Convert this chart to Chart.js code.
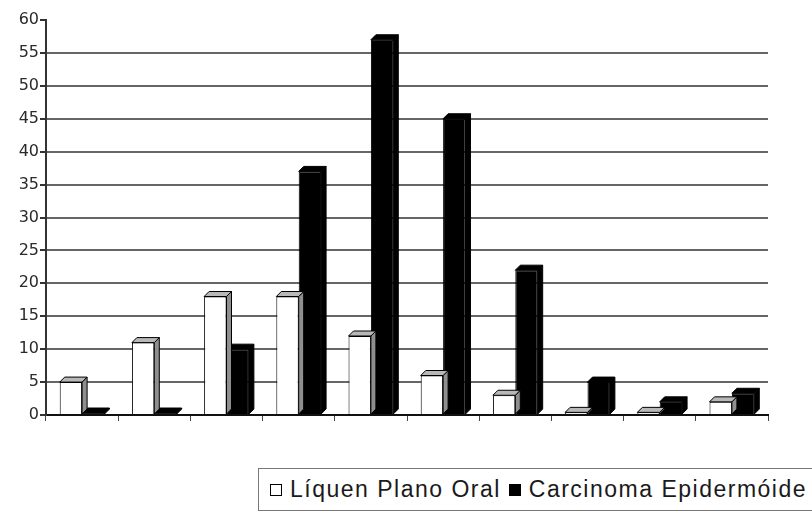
<!DOCTYPE html>
<html>
<head>
<meta charset="utf-8">
<script src="https://cdn.jsdelivr.net/npm/chart.js@4/dist/chart.umd.min.js"></script>
<style>
  html, body { margin: 0; padding: 0; background: #fff; overflow: hidden; }
  #wrap { position: relative; width: 812px; height: 513px; }
  #legend {
    position: absolute; left: 258px; top: 468px; width: 600px; height: 43px;
    border: 1px solid #777; box-sizing: border-box; background: #fff;
    font-family: "Liberation Sans", Arial, sans-serif; font-size: 23px; color: #1a1a1a;
    letter-spacing: 1.5px;
    white-space: nowrap; line-height: 41px; padding-left: 11px;
  }
  .sw { display: inline-block; width: 10px; height: 10px; border: 1px solid #000; margin-right: 8px; vertical-align: 1px; }
</style>
</head>
<body>
<div id="wrap">
  <canvas id="c" width="812" height="513"></canvas>
  <div id="legend"></div>
</div>
<script>
const categories = ['1', '2', '3', '4', '5', '6', '7', '8', '9', '10'];
const seriesNames = ['Líquen Plano Oral', 'Carcinoma Epidermóide'];
const liquenValues = [5, 11, 18, 18, 12, 6, 3, 0.4, 0.4, 2];
const carcinomaValues = [0.3, 0.3, 10, 37, 57, 45, 22, 5, 2, 3.3];
const yTicks = [0, 5, 10, 15, 20, 25, 30, 35, 40, 45, 50, 55, 60];

const faceColors = [
  { front: '#ffffff', top: '#b8b8b8', side: '#8f8f8f' },
  { front: '#000000', top: '#000000', side: '#000000' }
];

const depthPlugin = {
  id: 'depth3d',
  afterDatasetDraw(chart, args) {
    const ctx = chart.ctx;
    const d = 5;
    const col = faceColors[args.index];
    ctx.save();
    ctx.lineWidth = 1;
    ctx.strokeStyle = '#000';
    args.meta.data.forEach(el => {
      const p = el.getProps(['x', 'y', 'base', 'width'], true);
      const l = p.x - p.width / 2, r = p.x + p.width / 2, t = p.y, b = p.base;
      ctx.beginPath();
      ctx.moveTo(r, t); ctx.lineTo(r + d, t - d); ctx.lineTo(r + d, b - d); ctx.lineTo(r, b); ctx.closePath();
      ctx.fillStyle = col.side; ctx.fill(); ctx.stroke();
      ctx.beginPath();
      ctx.moveTo(l, t); ctx.lineTo(l + d, t - d); ctx.lineTo(r + d, t - d); ctx.lineTo(r, t); ctx.closePath();
      ctx.fillStyle = col.top; ctx.fill(); ctx.stroke();
    });
    ctx.restore();
  }
};

const legendEl = document.getElementById('legend');
seriesNames.forEach((name, i) => {
  const sw = document.createElement('span');
  sw.className = 'sw';
  sw.style.background = faceColors[i].front;
  legendEl.appendChild(sw);
  legendEl.appendChild(document.createTextNode(name + (i === 0 ? ' ' : '')));
});

new Chart(document.getElementById('c'), {
  type: 'bar',
  data: {
    labels: categories,
    datasets: [
      { label: seriesNames[0], data: liquenValues, backgroundColor: faceColors[0].front, borderColor: '#000', borderWidth: 1, categoryPercentage: 0.62, barPercentage: 1 },
      { label: seriesNames[1], data: carcinomaValues, backgroundColor: faceColors[1].front, borderColor: '#000', borderWidth: 1, categoryPercentage: 0.62, barPercentage: 1 }
    ]
  },
  options: {
    responsive: false,
    animation: false,
    layout: { padding: { left: 0, right: 44, top: 20, bottom: 92 } },
    plugins: { legend: { display: false }, tooltip: { enabled: false } },
    scales: {
      x: {
        ticks: { display: false },
        grid: { display: true, drawOnChartArea: false, drawTicks: true, tickLength: 6, offset: true, color: '#444', lineWidth: 1 },
        border: { display: true, color: '#111', width: 2 }
      },
      y: {
        min: 0, max: 60,
        afterBuildTicks(scale) { scale.ticks = yTicks.map(v => ({ value: v })); },
        afterFit(scale) { scale.width = 46; },
        ticks: { padding: 1, color: '#2a2a2a', font: { family: '"DejaVu Sans", sans-serif', size: 16 } },
        grid: {
          color: c => (c.tick && (c.tick.value === 0 || c.tick.value === 60)) ? 'rgba(0,0,0,0)' : '#666',
          tickColor: '#333',
          lineWidth: 2, tickLength: 6, drawTicks: true
        },
        border: { display: true, color: '#333', width: 2 }
      }
    }
  },
  plugins: [depthPlugin]
});
</script>
</body>
</html>
